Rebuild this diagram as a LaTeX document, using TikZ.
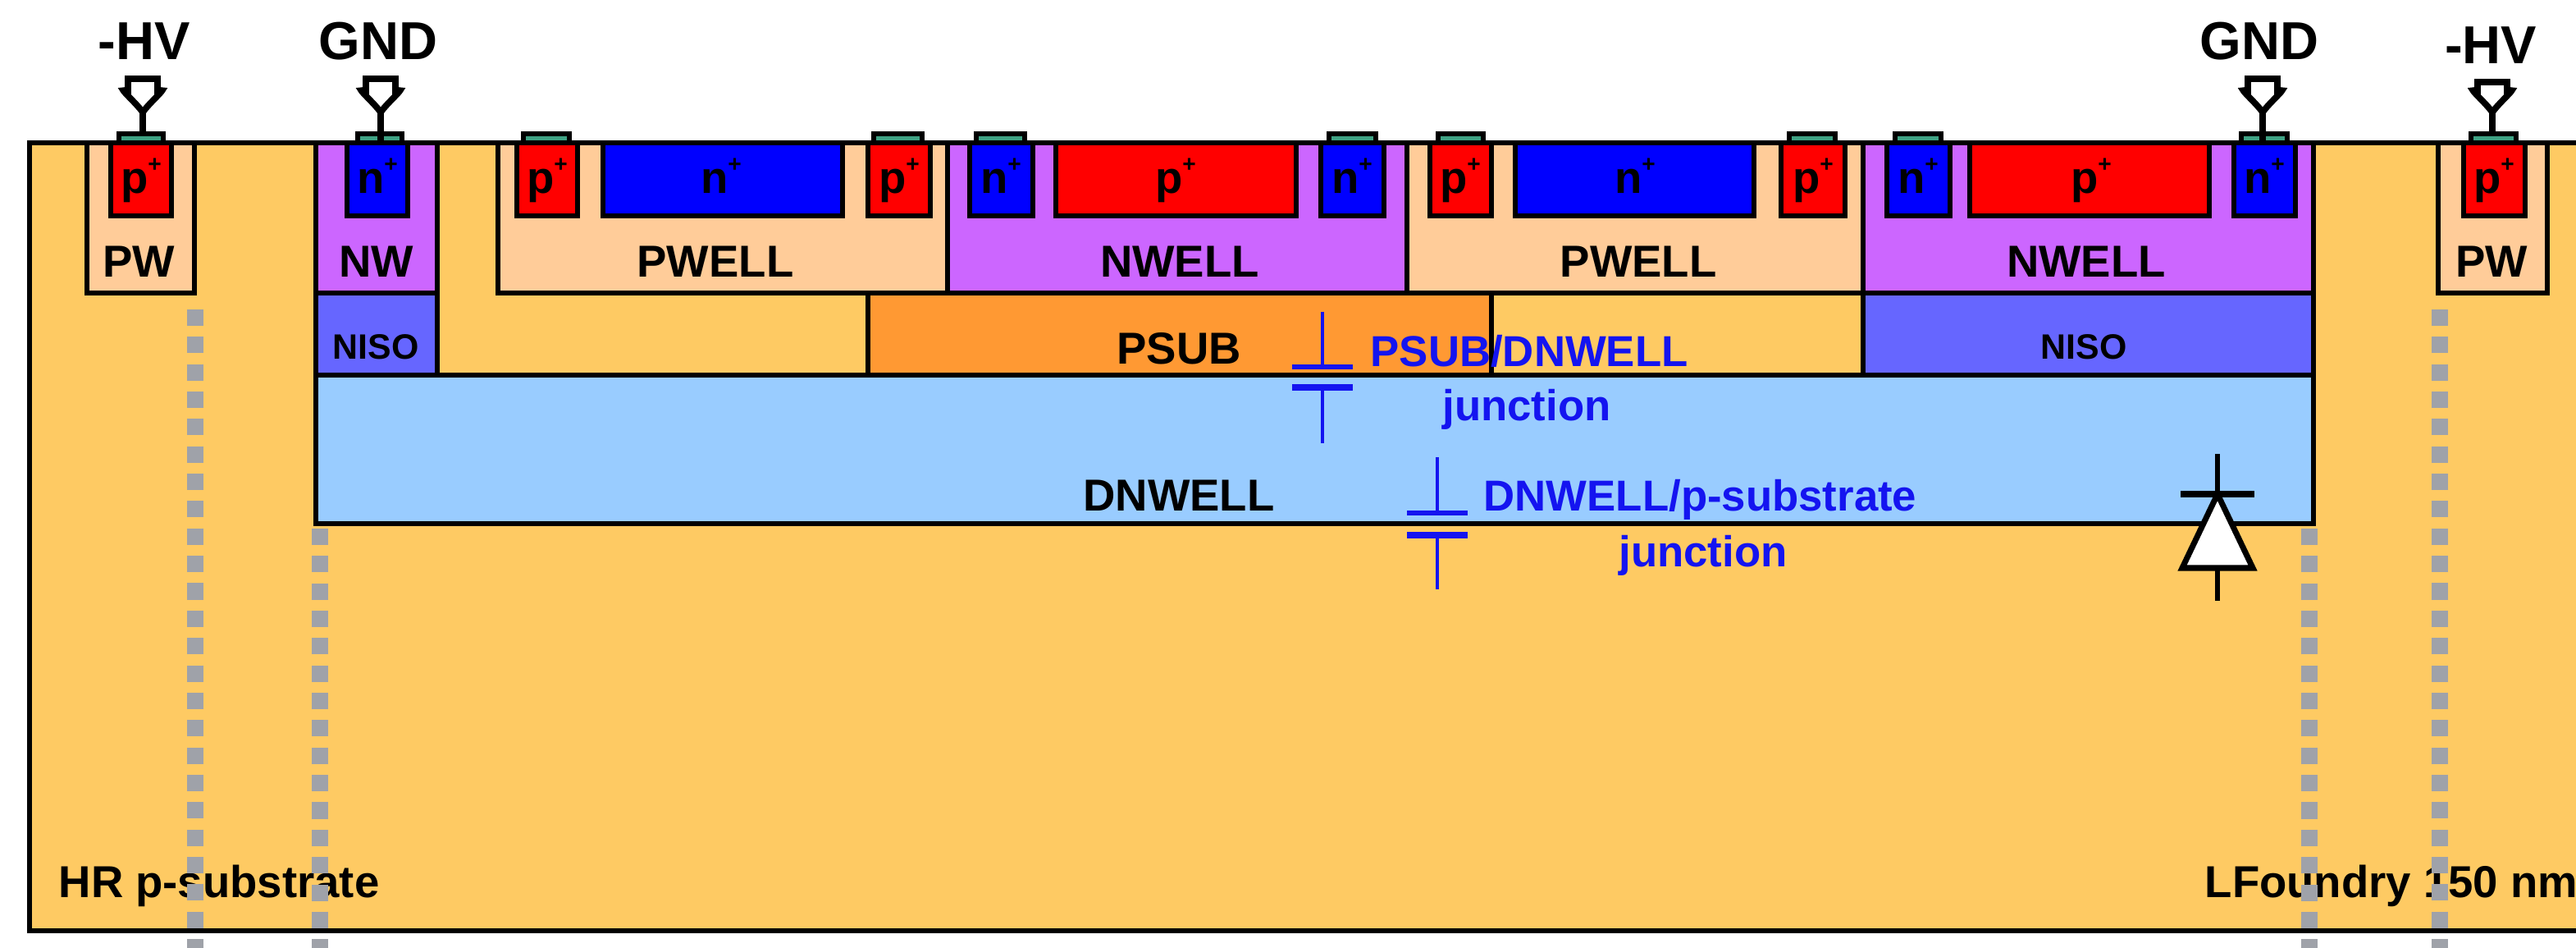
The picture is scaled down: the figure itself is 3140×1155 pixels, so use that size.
\documentclass[tikz,border=0pt]{standalone}
\usepackage{fontspec}
\usetikzlibrary{calc}
\setmainfont{Liberation Sans}
\definecolor{subcol}{HTML}{FECA63}
\definecolor{pwcol}{HTML}{FFCC99}
\definecolor{nwcol}{HTML}{CC66FF}
\definecolor{nisocol}{HTML}{6666FF}
\definecolor{psubcol}{HTML}{FF9933}
\definecolor{dnwcol}{HTML}{99CCFF}
\definecolor{contcol}{HTML}{3FA284}
\definecolor{dashcol}{HTML}{9FA2A9}
\definecolor{capcol}{HTML}{1414F0}
\newcommand{\dop}{\raisebox{7.5pt}{\fontsize{8}{8}\selectfont +}}
\begin{document}
\begin{tikzpicture}[x=0.01cm, y=-0.01cm]
    % Region styles
    \tikzstyle{edge}=[draw=black, line width=1.9pt, line join=miter]
    \tikzstyle{pwell}=[edge, fill=pwcol]
    \tikzstyle{nwell}=[edge, fill=nwcol]
    \tikzstyle{niso}=[edge, fill=nisocol]
    \tikzstyle{psub}=[edge, fill=psubcol]
    \tikzstyle{dnwell}=[edge, fill=dnwcol]
    \tikzstyle{pplus}=[edge, fill=red]
    \tikzstyle{nplus}=[edge, fill=blue]
    \tikzstyle{contact}=[draw=black, line width=1.6pt, fill=contcol]
    % Text styles
    \tikzstyle{tag}=[anchor=base, inner sep=0pt, font=\fontsize{15.5}{18}\selectfont\bfseries]
    \tikzstyle{small tag}=[tag, font=\fontsize{12.2}{14}\selectfont\bfseries]
    \tikzstyle{bias tag}=[anchor=base, inner sep=0pt, font=\fontsize{18.5}{22}\selectfont\bfseries]
    \tikzstyle{cap tag}=[tag, text=capcol, font=\fontsize{15}{18}\selectfont\bfseries]
    % Line styles
    \tikzstyle{guard}=[draw=dashcol, line width=0.2cm, dash pattern=on 0.2cm off 0.1333cm]
    \tikzstyle{pin}=[draw=black, line width=2.2pt]
    \tikzstyle{cap wire}=[draw=capcol, line width=1.3pt]
    \tikzstyle{cap plate}=[draw=capcol, line width=1.8pt]
    \tikzstyle{diode}=[draw=black, line width=1.6pt]

    \useasboundingbox (0,0) rectangle (3140,1155);

    % --- Substrate ---
    \fill[subcol] (36,174) rectangle (3140,1134);
    \node[tag, anchor=base west] (hr_sub) at (71,1093) {HR p-substrate};
    \node[tag, anchor=base west] (foundry) at (2687,1093) {LFoundry 150 nm};

    % Guard ring marks (run over the text, under the outline)
    \coordinate (g1_a) at (238,377);   \coordinate (g1_b) at (238,1155);
    \coordinate (g2_a) at (390,644);   \coordinate (g2_b) at (390,1155);
    \coordinate (g3_a) at (2815,644);  \coordinate (g3_b) at (2815,1155);
    \coordinate (g4_a) at (2974,377);  \coordinate (g4_b) at (2974,1155);
    \draw[guard] (g1_a) -- (g1_b);
    \draw[guard] (g2_a) -- (g2_b);
    \draw[guard] (g3_a) -- (g3_b);
    \draw[guard] (g4_a) -- (g4_b);

    % Substrate outline, open on the right
    \draw[edge] (3140,174) -- (36,174) -- (36,1134) -- (3140,1134);

    % --- Deep layers ---
    \draw[dnwell] (385,457) rectangle (2820,638);
    \draw[niso] (385,357) rectangle (533,457);
    \draw[psub] (1058,357) rectangle (1818,457);
    \draw[edge] (1818,357) rectangle (2271,457);
    \draw[niso] (2271,357) rectangle (2820,457);

    % --- Wells ---
    \draw[pwell] (106,174) rectangle (237,357);
    \draw[nwell] (385,174) rectangle (533,357);
    \draw[pwell] (607,174) rectangle (1155,357);
    \draw[nwell] (1155,174) rectangle (1715,357);
    \draw[pwell] (1715,174) rectangle (2271,357);
    \draw[nwell] (2271,174) rectangle (2820,357);
    \draw[pwell] (2972,174) rectangle (3105,357);

    % --- Contacts ---
    \draw[contact] (145,163) rectangle (199,174);
    \draw[contact] (436,163) rectangle (490,174);
    \draw[contact] (638,163) rectangle (694,174);
    \draw[contact] (1065,163) rectangle (1124,174);
    \draw[contact] (1190,163) rectangle (1249,174);
    \draw[contact] (1620,163) rectangle (1677,174);
    \draw[contact] (1753,163) rectangle (1808,174);
    \draw[contact] (2181,163) rectangle (2237,174);
    \draw[contact] (2310,163) rectangle (2366,174);
    \draw[contact] (2732,163) rectangle (2788,174);
    \draw[contact] (3012,163) rectangle (3067,174);

    % --- Implants ---
    \draw[pplus] (135,174) rectangle (209,263);
    \draw[nplus] (423,174) rectangle (497,263);
    \draw[pplus] (630,174) rectangle (704,263);
    \draw[nplus] (735,174) rectangle (1027,263);
    \draw[pplus] (1058,174) rectangle (1134,263);
    \draw[nplus] (1182,174) rectangle (1259,263);
    \draw[pplus] (1287,174) rectangle (1580,263);
    \draw[nplus] (1610,174) rectangle (1687,263);
    \draw[pplus] (1743,174) rectangle (1818,263);
    \draw[nplus] (1847,174) rectangle (2138,263);
    \draw[pplus] (2171,174) rectangle (2249,263);
    \draw[nplus] (2300,174) rectangle (2377,263);
    \draw[pplus] (2401,174) rectangle (2693,263);
    \draw[nplus] (2723,174) rectangle (2798,263);
    \draw[pplus] (3003,174) rectangle (3078,263);

    % Implant labels
    \node[tag] (p1) at (172,236) {p\dop};
    \node[tag] (n1) at (460,236) {n\dop};
    \node[tag] (p2) at (667,236) {p\dop};
    \node[tag] (n2) at (879,236) {n\dop};
    \node[tag] (p3) at (1096,236) {p\dop};
    \node[tag] (n3) at (1220,236) {n\dop};
    \node[tag] (p4) at (1433,236) {p\dop};
    \node[tag] (n4) at (1648,236) {n\dop};
    \node[tag] (p5) at (1780,236) {p\dop};
    \node[tag] (n5) at (1993,236) {n\dop};
    \node[tag] (p6) at (2210,236) {p\dop};
    \node[tag] (n6) at (2338,236) {n\dop};
    \node[tag] (p7) at (2549,236) {p\dop};
    \node[tag] (n7) at (2760,236) {n\dop};
    \node[tag] (p8) at (3040,236) {p\dop};

    % Well and layer labels
    \node[tag] (pw_l) at (169,338) {PW};
    \node[tag] (nw_l) at (459,338) {NW};
    \node[tag] (pwell_1) at (872,338) {PWELL};
    \node[tag] (nwell_1) at (1438,338) {NWELL};
    \node[tag] (pwell_2) at (1997,338) {PWELL};
    \node[tag] (nwell_2) at (2543,338) {NWELL};
    \node[tag] (pw_r) at (3037,338) {PW};
    \node[small tag] (niso_l) at (458,437) {NISO};
    \node[small tag] (niso_r) at (2540,437) {NISO};
    \node[tag] (psub_lab) at (1437,443) {PSUB};
    \node[tag] (dnwell_lab) at (1437,622) {DNWELL};

    % --- Bias terminals ---
    \coordinate (t1) at (174,137);   \coordinate (s1) at (174,165);
    \coordinate (t2) at (464,137);   \coordinate (s2) at (464,172);
    \coordinate (t3) at (2758,137);  \coordinate (s3) at (2758,172);
    \coordinate (t4) at (3038,137);  \coordinate (s4) at (3038,165);
    \draw[pin] (t1) -- (s1);
    \draw[pin] (t2) -- (s2);
    \draw[pin] (t3) -- (s3);
    \draw[pin] (t4) -- (s4);
    \draw[pin] (t1) .. controls +(-6,-10) and +(-18,-12) .. +(-18,-24) -- +(-18,-41) -- +(18,-41) -- +(18,-24) .. controls +(18,-12) and +(6,-10) .. (t1);
    \draw[pin] (t2) .. controls +(-6,-10) and +(-18,-12) .. +(-18,-24) -- +(-18,-41) -- +(18,-41) -- +(18,-24) .. controls +(18,-12) and +(6,-10) .. (t2);
    \draw[pin] (t3) .. controls +(-6,-10) and +(-18,-12) .. +(-18,-24) -- +(-18,-41) -- +(18,-41) -- +(18,-24) .. controls +(18,-12) and +(6,-10) .. (t3);
    \draw[pin] (t4) .. controls +(-6,-10) and +(-18,-12) .. +(-18,-24) -- +(-18,-37) -- +(18,-37) -- +(18,-24) .. controls +(18,-12) and +(6,-10) .. (t4);
    \node[bias tag] (hv_l) at (176,73) {-HV};
    \node[bias tag] (gnd_l) at (461,73) {GND};
    \node[bias tag] (gnd_r) at (2754,73) {GND};
    \node[bias tag] (hv_r) at (3036,78) {-HV};

    % --- PSUB/DNWELL capacitor ---
    \coordinate (c1_top) at (1612,380);   \coordinate (c1_a) at (1612,447);
    \coordinate (c1_b) at (1612,472);     \coordinate (c1_bot) at (1612,540);
    \draw[cap wire] (c1_top) -- (c1_a);
    \draw[cap wire] (c1_b) -- (c1_bot);
    \draw[cap plate] (c1_a) +(-37,0) -- +(37,0);
    \draw[cap plate, line width=2.2pt] (c1_b) +(-37,0) -- +(37,0);
    \node[cap tag, anchor=base west] (c1_lab) at (1670,446) {PSUB/DNWELL};
    \node[cap tag] (c1_jun) at (1861,512) {junction};

    % --- DNWELL/p-substrate capacitor ---
    \coordinate (c2_top) at (1752,557);   \coordinate (c2_a) at (1752,625);
    \coordinate (c2_b) at (1752,652);     \coordinate (c2_bot) at (1752,718);
    \draw[cap wire] (c2_top) -- (c2_a);
    \draw[cap wire] (c2_b) -- (c2_bot);
    \draw[cap plate] (c2_a) +(-37,0) -- +(37,0);
    \draw[cap plate, line width=2.2pt] (c2_b) +(-37,0) -- +(37,0);
    \node[cap tag, anchor=base west] (c2_lab) at (1808,622) {DNWELL/p-substrate};
    \node[cap tag] (c2_jun) at (2076,690) {junction};

    % --- Diode ---
    \coordinate (d_top) at (2703,553);   \coordinate (d_k) at (2703,602);
    \coordinate (d_a) at (2703,692);     \coordinate (d_bot) at (2703,732);
    \draw[diode] (d_top) -- (d_k);
    \draw[diode] (d_a) -- (d_bot);
    \draw[diode, line width=2pt] (d_k) +(-45,0) -- +(45,0);
    \draw[diode, line width=2pt, fill=white] (d_k) -- ($(d_a)+(-43,0)$) -- ($(d_a)+(43,0)$) -- cycle;
\end{tikzpicture}
\end{document}
